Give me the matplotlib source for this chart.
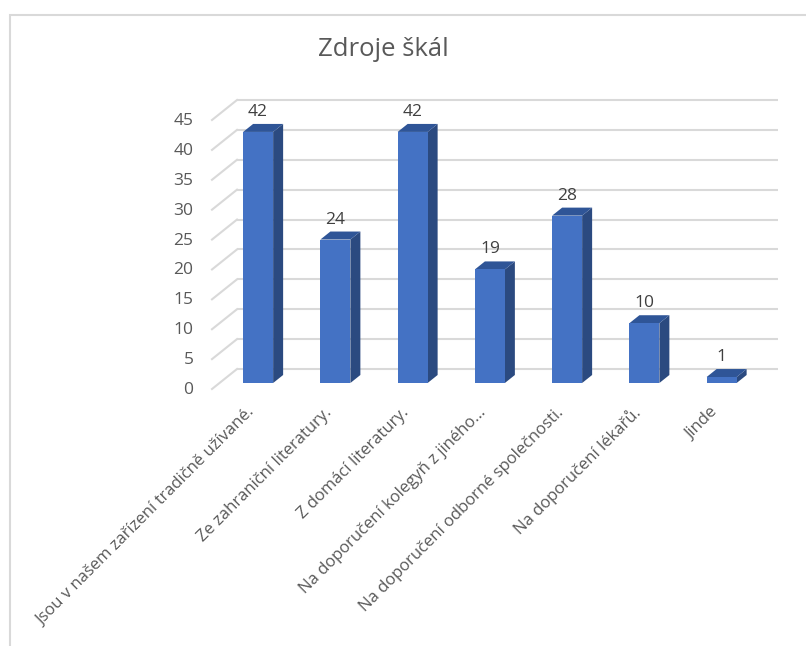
import matplotlib.pyplot as plt
from matplotlib.patches import Polygon, Rectangle

plt.rcParams['font.family'] = ['Open Sans', 'DejaVu Sans']

kategorie = ['Jsou v našem zařízení tradičně užívané.',
             'Ze zahraniční literatury.',
             'Z domácí literatury.',
             'Na doporučení kolegyň z jiného…',
             'Na doporučení odborné společnosti.',
             'Na doporučení lékařů.',
             'Jinde']
hodnoty = [42, 24, 42, 19, 28, 10, 1]
osa_y = [0, 5, 10, 15, 20, 25, 30, 35, 40, 45]

W, H = 806, 646
fig = plt.figure(figsize=(W / 100, H / 100), dpi=100)
# osa = rovina prednich sten sloupcu (v pixelech obrazku)
x0, x1 = 219.5, 760.25
y0, y1 = 383, 114
ax = fig.add_axes([x0 / W, 1 - y0 / H, (x1 - x0) / W, (y0 - y1) / H])
ax.set_xlim(-0.5, 6.5)
ax.set_ylim(0, 45)
ax.axis('off')

# pixely -> jednotky dat
sx = ax.transData.transform((1, 0))[0] - ax.transData.transform((0, 0))[0]
sy = ax.transData.transform((0, 1))[1] - ax.transData.transform((0, 0))[1]

seda = '#D9D9D9'
text_barva = '#595959'

# zadni stena - mrizka
ax.hlines([v + 14 / sy for v in osa_y], -0.5 + 17.5 / sx, 6.5 + 17.5 / sx,
          color=seda, lw=1.5, zorder=0, clip_on=False)
# bocni stena - sikme cary
for v in osa_y:
    ax.plot([-0.5 - 7.5 / sx, -0.5 + 17.5 / sx], [v - 6 / sy, v + 14 / sy],
            color=seda, lw=1.5, zorder=0, clip_on=False)
    ax.text(-0.5 - 26 / sx, v - 7 / sy, str(v), ha='right', va='center',
            fontsize=12.5, color=text_barva)

# sloupce
sirka = 30 / sx
hx, hy = 10 / sx, 8 / sy
for i, v in enumerate(hodnoty):
    l, r = i - sirka / 2, i + sirka / 2
    ax.add_patch(Polygon([(r, 0), (r + hx, hy), (r + hx, v + hy), (r, v)],
                         closed=True, fc='#2B4A80', ec='none', zorder=2, clip_on=False))
    ax.add_patch(Polygon([(l, v), (r, v), (r + hx, v + hy), (l + hx, v + hy)],
                         closed=True, fc='#2F5597', ec='none', zorder=2, clip_on=False))
ax.bar(range(len(hodnoty)), hodnoty, width=sirka, color='#4472C4', zorder=3, clip_on=False)

for i, v in enumerate(hodnoty):
    ax.text(i, v + hy + 12 / sy, str(v), ha='center', va='center',
            fontsize=12.5, color='#404040')

# popisky kategorii
for i, k in enumerate(kategorie):
    ax.text(i - 6 / sx, -27 / sy, k, rotation=45, rotation_mode='anchor',
            ha='right', va='center', fontsize=12, color=text_barva)

fig.text(383 / W, 1 - 50 / H, 'Zdroje škál', ha='center', va='center',
         fontsize=18.5, color=text_barva)

# ramecek grafu
fig.patches.append(Rectangle((10 / W, -0.1), 1.2, 1 - 15 / H + 0.1, transform=fig.transFigure,
                             fill=False, ec=seda, lw=1.5))

fig.savefig('out.png', dpi=100)
